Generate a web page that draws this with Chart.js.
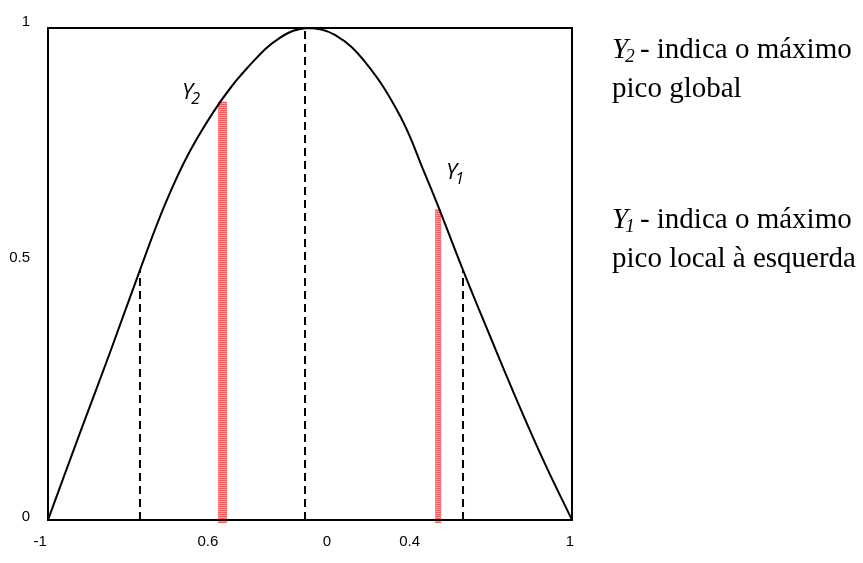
<!DOCTYPE html>
<html>
<head>
<meta charset="utf-8">
<script src="https://cdn.jsdelivr.net/npm/chart.js@4"></script>
<style>
  html, body { margin: 0; padding: 0; background: #fff; }
  #wrap { width: 863px; height: 563px; }
</style>
</head>
<body>
<div id="wrap"><canvas id="chart"></canvas></div>
<script>
// curve
var curveX = [-1, -0.878, -0.763, -0.649, -0.553, -0.458, -0.336, -0.229, -0.115, -0.008, 0.095, 0.210, 0.344, 0.439, 0.489, 0.584, 0.687, 0.802, 0.897, 1];
var curveY = [0, 0.177, 0.341, 0.508, 0.642, 0.750, 0.855, 0.925, 0.980, 1.0, 0.986, 0.931, 0.821, 0.703, 0.638, 0.508, 0.374, 0.228, 0.114, 0];

// dashed verticals: x and height
var dashX = [-0.649, -0.019, 0.584];
var dashTop = [0.508, 1.0, 0.508];

// red bars (Y2, Y1)
var barX = [-0.334, 0.489];
var barTop = [0.85, 0.632];
var barBottom = -0.006;

// tick labels, as placed in the picture
var xTickValues = [-1.03, -0.39, 0.065, 0.38, 0.992];
var xTickLabels = ['-1', '0.6', '0', '0.4', '1'];
var yTickValues = [0.006, 0.533, 1.012];
var yTickLabels = ['0', '0.5', '1'];

var notes = [
    ['Y', '2', ' - indica o máximo'],
    ['', '', 'pico global'],
    ['Y', '1', ' - indica o máximo'],
    ['', '', 'pico local à esquerda']
];

var datasets = [];
datasets.push({
    label: 'curve',
    data: curveX.map((x, i) => ({x: x, y: curveY[i]})),
    borderColor: '#000',
    borderWidth: 2,
    pointRadius: 0,
    tension: 0.4,
    fill: false
});
for (var i = 0; i < dashX.length; i++) {
    datasets.push({
        label: 'dash' + i,
        data: [{x: dashX[i], y: 0}, {x: dashX[i], y: dashTop[i]}],
        borderColor: '#000',
        borderWidth: 2,
        borderDash: [8, 5],
        pointRadius: 0,
        fill: false
    });
}
var barWidths = [9, 6];
for (var i = 0; i < barX.length; i++) {
    datasets.push({
        label: 'barStripe' + i,
        data: [{x: barX[i], y: barBottom}, {x: barX[i], y: barTop[i]}],
        borderColor: 'rgba(240,80,80,0.85)',
        borderWidth: barWidths[i],
        borderDash: [1, 1],
        borderCapStyle: 'butt',
        pointRadius: 0,
        clip: false
    });
    datasets.push({
        label: 'bar' + i,
        data: [{x: barX[i], y: barBottom}, {x: barX[i], y: barTop[i]}],
        borderColor: 'rgba(255,160,160,1)',
        borderWidth: barWidths[i],
        borderCapStyle: 'butt',
        pointRadius: 0,
        clip: false
    });
}

var frame = {
    id: 'frame',
    afterDatasetsDraw(chart) {
        var a = chart.chartArea, ctx = chart.ctx;
        ctx.save();
        ctx.strokeStyle = '#000';
        ctx.lineWidth = 2;
        ctx.strokeRect(a.left, a.top, a.right - a.left, a.bottom - a.top);
        ctx.restore();
    },
    afterDraw(chart) {
        var ctx = chart.ctx;
        ctx.save();
        ctx.fillStyle = '#000';
        ctx.textBaseline = 'alphabetic';
        // Y2 / Y1 marks inside the plot
        function mark(sub, x, y) {
            ctx.font = 'italic 22px "Open Sans"';
            ctx.fillText('Y', x, y);
            var w = ctx.measureText('Y').width;
            ctx.font = 'italic 16px "Open Sans"';
            ctx.fillText(sub, x + w - 2, y + 5);
        }
        mark('2', 182, 99);
        mark('1', 446, 179);
        // notes on the right
        var lineY = [58, 97, 228, 267];
        for (var i = 0; i < notes.length; i++) {
            var x = 612;
            if (notes[i][0]) {
                ctx.font = 'italic 29px "Liberation Serif"';
                ctx.fillText(notes[i][0], x, lineY[i]);
                x += ctx.measureText(notes[i][0]).width - 3;
                ctx.font = 'italic 19px "Liberation Serif"';
                ctx.fillText(notes[i][1], x, lineY[i] + 4);
                x += ctx.measureText(notes[i][1]).width - 2;
            }
            ctx.font = '29px "Liberation Serif"';
            ctx.fillText(notes[i][2], x, lineY[i]);
        }
        ctx.restore();
    }
};

new Chart(document.getElementById('chart'), {
    type: 'line',
    data: { datasets: datasets },
    options: {
        responsive: true,
        maintainAspectRatio: false,
        animation: false,
        layout: { padding: { top: 28, right: 291, left: 0, bottom: 0 } },
        plugins: { legend: { display: false }, tooltip: { enabled: false } },
        scales: {
            x: {
                type: 'linear',
                min: -1,
                max: 1,
                grid: { display: false },
                border: { display: false },
                afterBuildTicks: s => { s.ticks = xTickValues.map(v => ({value: v})); },
                afterFit: s => { s.height = 43; },
                ticks: {
                    autoSkip: false,
                    maxRotation: 0,
                    padding: 5,
                    color: '#000',
                    font: { family: 'Liberation Sans', size: 15 },
                    callback: (v, i) => xTickLabels[i]
                }
            },
            y: {
                type: 'linear',
                min: 0,
                max: 1,
                grid: { display: false },
                border: { display: false },
                afterBuildTicks: s => { s.ticks = yTickValues.map(v => ({value: v})); },
                afterFit: s => { s.width = 48; },
                ticks: {
                    autoSkip: false,
                    padding: 10,
                    color: '#000',
                    font: { family: 'Liberation Sans', size: 15 },
                    callback: (v, i) => yTickLabels[i]
                }
            }
        }
    },
    plugins: [frame]
});
</script>
</body>
</html>
